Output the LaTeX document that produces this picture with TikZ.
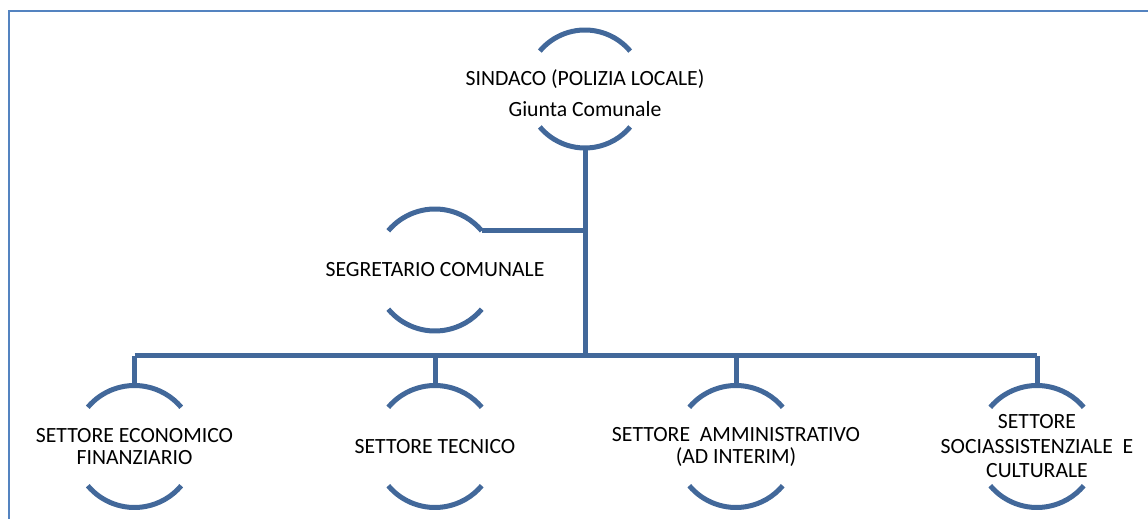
\documentclass[tikz,border=0pt]{standalone}
\usepackage{fontspec}
\setmainfont{Carlito}
\definecolor{ringblue}{RGB}{66,104,154}
\definecolor{frameblue}{RGB}{84,131,192}
\begin{document}
\begin{tikzpicture}[x=1pt,y=1pt,
  ring/.style={circle,minimum size=122pt,inner sep=0pt,outer sep=0pt},
  ringline/.style={draw=ringblue,line width=5pt},
  conn/.style={draw=ringblue,line width=5pt},
  lbl/.style={align=center,inner sep=0pt,font=\fontsize{21.7}{22}\selectfont}]
\useasboundingbox (0,0) rectangle (1148,519);
\draw[frameblue,line width=2pt] (9,0) -- (9,508) -- (1148,508);
% rings
\node[ring,minimum size=118pt] (sind) at (585,430) {};
\node[ring] (segr) at (435,249) {};
\node[ring] (eco) at (134.5,72.5) {};
\node[ring] (tec) at (435,72.5) {};
\node[ring] (amm) at (736,72.5) {};
\node[ring] (soc) at (1037,72.5) {};
\newcommand\ringarcs[2]{%
  \draw[ringline] (#1.140) arc[start angle=140,end angle=40,radius=#2];
  \draw[ringline] (#1.220) arc[start angle=220,end angle=320,radius=#2];}
\ringarcs{sind}{59pt}
\ringarcs{segr}{61pt}
\ringarcs{eco}{61pt}
\ringarcs{tec}{61pt}
\ringarcs{amm}{61pt}
\ringarcs{soc}{61pt}
% labels
\node[lbl,font=\fontsize{21.7}{31}\selectfont] (sindt) at (585,426) {SINDACO (POLIZIA LOCALE)\\Giunta Comunale};
\node[lbl] (segrt) at (segr) {SEGRETARIO COMUNALE};
\node[lbl] (ecot) at (eco) {SETTORE ECONOMICO\\FINANZIARIO};
\node[lbl] (tect) at (tec) {SETTORE TECNICO};
\node[lbl] (ammt) at (amm) {SETTORE\ \ AMMINISTRATIVO\\(AD INTERIM)};
\node[lbl,font=\fontsize{21.7}{24.5}\selectfont] (soct) at (soc) {SETTORE\\SOCIASSISTENZIALE\ \ E\\CULTURALE};
% connectors
\coordinate (bus) at (585,163);
\draw[conn] (sind.south) -- (bus);
\draw[conn] (segr.40) -- (segr.40 -| sind.south);
\draw[conn] (eco.north |- bus) -- (soc.north |- bus);
\draw[conn] (eco.north |- bus) -- (eco.north);
\draw[conn] (tec.north |- bus) -- (tec.north);
\draw[conn] (amm.north |- bus) -- (amm.north);
\draw[conn] (soc.north |- bus) -- (soc.north);
\end{tikzpicture}
\end{document}
